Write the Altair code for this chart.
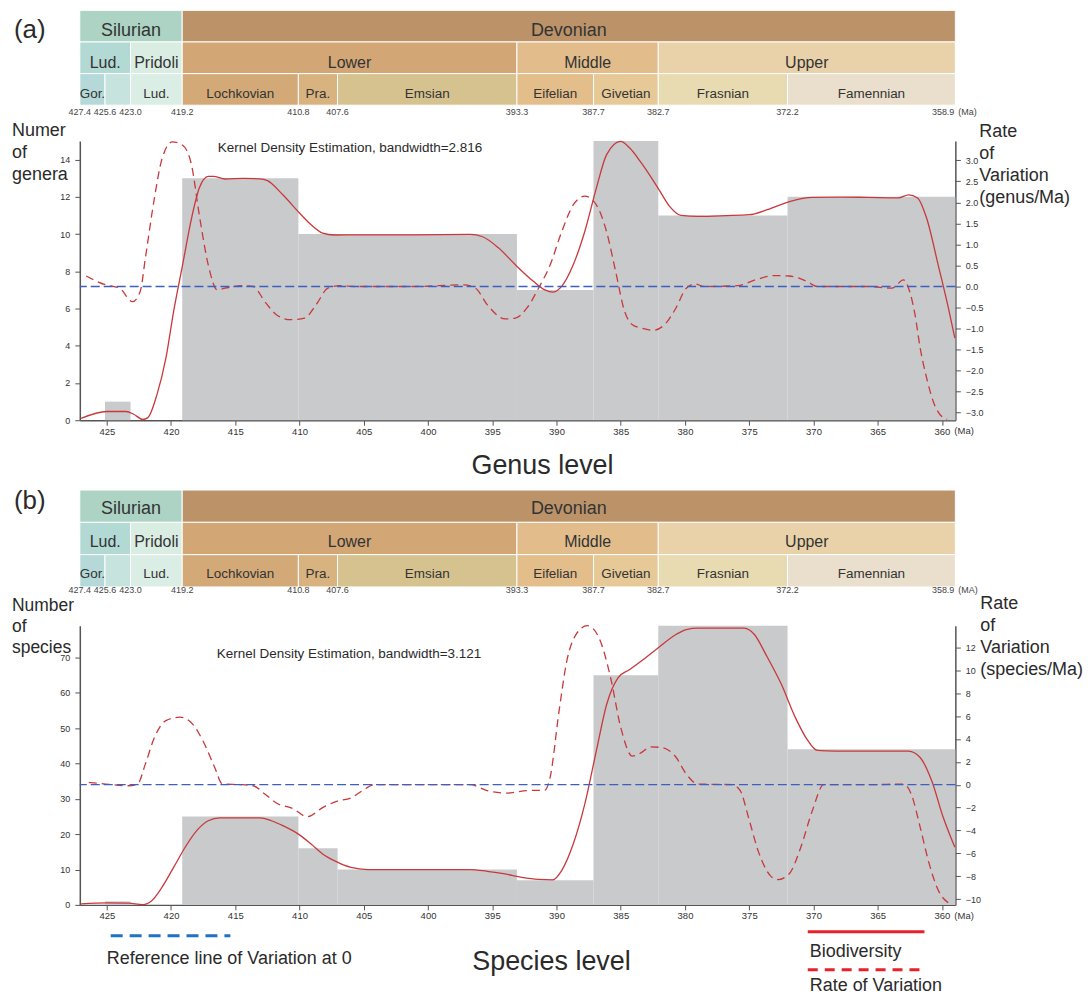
import altair as alt
import pandas as pd

FONT = "Liberation Sans"
RED = "#c9383b"
BLUE = "#3d5fc0"
BAR = "#c9cacc"
TXT = "#2a2a2a"

# ---------------- geological time scale ----------------
boundary_labels = ["427.4", "425.6", "423.0", "419.2", "410.8", "407.6",
                   "393.3", "387.7", "382.7", "372.2", "358.9"]
# where each boundary sits on the plot's time axis (Ma)
boundary_pos = [427.1, 425.14, 423.15, 419.13, 410.09, 407.04,
                393.08, 387.12, 382.08, 372.02, 358.96]

unit_names = ["Silurian", "Devonian",
              "Lud.", "Pridoli", "Lower", "Middle", "Upper",
              "Gor.", "", "Lud.", "Lochkovian", "Pra.", "Emsian",
              "Eifelian", "Givetian", "Frasnian", "Famennian"]
unit_rows = [0, 0, 1, 1, 1, 1, 1, 2, 2, 2, 2, 2, 2, 2, 2, 2, 2]
unit_from = [0, 3, 0, 2, 3, 6, 8, 0, 1, 2, 3, 4, 5, 6, 7, 8, 9]
unit_to = [3, 10, 2, 3, 6, 8, 10, 1, 2, 3, 4, 5, 6, 7, 8, 9, 10]
unit_colors = ["#acd3c3", "#bc9369",
               "#b3d9d5", "#d9ede3", "#d2a675", "#e2bd8b", "#e9d2a9",
               "#b4d9d8", "#c6e4dd", "#dbeee5", "#d4a978", "#d9b37f",
               "#d6c28f", "#e3bd8a", "#e6c996", "#e8dbb1", "#e9dfcc"]
row_font = [18, 16, 13.5]

# ---------------- genus level ----------------
genus_bar_start = [425.14, 419.13, 410.09, 393.08, 387.12, 382.08, 372.02]
genus_bar_end = [423.15, 410.09, 393.08, 387.12, 382.08, 372.02, 358.96]
genus_bar_count = [1, 13, 10, 7, 15, 11, 12]

genus_kde_ma = [427.0, 425.0, 423.5, 422.9, 422.2, 421.8, 421.1, 420.4, 419.8, 419.1,
                418.4, 417.8, 417.1, 416.7, 415.8, 414.4, 413.1, 412.5, 411.3, 410.0,
                409.1, 408.2, 407.3, 405.6, 401.1, 396.7, 395.8, 394.5, 393.2, 391.8,
                390.9, 390.3, 389.6, 388.7, 387.8, 386.9, 386.1, 385.0, 384.3, 383.4,
                382.1, 381.2, 380.3, 379.0, 376.8, 375.0, 373.6, 371.8, 370.1, 367.9,
                365.7, 363.4, 362.6, 361.9, 361.2, 360.3, 359.5, 359.0]
genus_kde_val = [0.1, 0.47, 0.47, 0.32, 0.04, 0.14, 1.36, 3.33, 5.84, 8.35,
                 10.86, 12.47, 13.1, 13.1, 12.96, 12.99, 12.97, 12.87, 12.11, 11.13,
                 10.5, 10.05, 9.95, 9.96, 9.96, 9.98, 9.87, 9.25, 8.35, 7.46,
                 7.0, 6.88, 7.19, 8.35, 10.14, 12.47, 14.27, 14.98, 14.62, 13.82,
                 12.47, 11.49, 11.0, 10.95, 10.99, 11.04, 11.31, 11.76, 11.97, 11.99,
                 11.97, 11.95, 12.11, 11.94, 10.86, 8.35, 6.02, 4.41]

genus_rate_ma = [426.6, 425.1, 424.0, 423.0, 422.4, 422.0, 421.3, 420.7, 419.9, 419.1,
                 418.4, 417.8, 417.1, 416.4, 415.8, 414.4, 413.6, 412.7, 411.8, 410.7,
                 409.6, 408.7, 407.8, 406.9, 405.6, 401.1, 397.2, 396.3, 395.4, 394.0,
                 393.2, 392.3, 391.4, 390.5, 389.6, 388.7, 387.8, 386.9, 386.1, 385.4,
                 384.7, 384.1, 383.4, 382.5, 381.6, 380.7, 379.9, 379.2, 378.5, 375.9,
                 374.5, 373.0, 371.9, 370.5, 369.7, 365.7, 363.9, 363.0, 362.6, 362.1,
                 361.7, 361.2, 360.6, 359.9, 359.6]
genus_rate_val = [0.25, 0.04, -0.04, -0.36, -0.12, 0.67, 2.09, 3.04, 3.44, 3.36,
                  2.88, 1.70, 0.51, -0.08, -0.04, 0.02, 0.0, -0.36, -0.67, -0.79,
                  -0.75, -0.43, -0.04, 0.02, 0.0, 0.0, 0.04, -0.04, -0.43, -0.77,
                  -0.75, -0.51, -0.04, 0.51, 1.30, 1.94, 2.15, 1.94, 1.30, 0.36,
                  -0.59, -0.91, -0.99, -1.04, -0.91, -0.51, -0.04, 0.06, 0.0, 0.02,
                  0.16, 0.26, 0.25, 0.12, 0.0, 0.0, -0.04, 0.16, -0.04, -0.67,
                  -1.46, -2.17, -2.80, -3.12, -3.16]

# ---------------- species level ----------------
species_bar_start = [425.14, 419.13, 410.09, 407.04, 393.08, 387.12, 382.08, 372.02]
species_bar_end = [423.15, 410.09, 407.04, 393.08, 387.12, 382.08, 372.02, 358.96]
species_bar_count = [1, 25, 16, 10, 7, 65, 79, 44]

species_kde_ma = [427.0, 425.0, 423.3, 422.2, 421.5, 420.7, 419.8, 418.9, 418.0, 417.1,
                  416.2, 414.4, 413.1, 412.2, 411.3, 410.0, 409.1, 408.2, 407.3, 406.0,
                  404.7, 401.1, 396.7, 395.4, 394.0, 392.7, 391.4, 390.3, 389.6, 388.7,
                  387.8, 386.9, 386.1, 385.2, 384.3, 383.4, 382.1, 380.7, 379.9, 379.0,
                  375.4, 374.6, 373.7, 372.5, 371.4, 370.5, 369.7, 368.3, 362.6, 361.7,
                  360.8, 359.9, 359.0]
species_kde_val = [0.3, 0.56, 0.47, 0.1, 1.2, 5.0, 10.6, 16.3, 21.0, 23.8,
                   24.6, 24.6, 24.6, 23.8, 22.4, 19.8, 17.2, 14.4, 12.5, 10.6,
                   10.0, 10.0, 10.0, 9.5, 8.75, 7.8, 7.2, 7.06, 9.7, 17.2,
                   28.5, 43.6, 56.7, 64.3, 66.6, 69.0, 72.7, 76.5, 77.9, 78.3,
                   78.3, 76.5, 70.8, 62.4, 52.9, 46.8, 43.7, 43.5, 43.5, 41.7,
                   35.1, 24.7, 16.3]

species_rate_ma = [426.4, 425.1, 423.3, 422.6, 422.0, 421.3, 420.4, 419.3, 418.4, 417.5,
                   416.6, 416.0, 414.4, 413.6, 412.7, 411.8, 410.5, 409.4, 408.2, 407.1,
                   406.0, 405.1, 404.2, 396.7, 395.4, 394.0, 392.3, 390.9, 390.5, 389.8,
                   389.2, 388.5, 387.6, 386.7, 385.8, 385.0, 384.1, 383.4, 382.7, 381.9,
                   380.7, 379.9, 379.0, 376.3, 375.7, 375.0, 374.3, 373.4, 372.8, 371.9,
                   371.0, 370.1, 369.2, 365.7, 363.0, 362.4, 361.7, 361.0, 360.3, 359.4]
species_rate_val = [0.2, 0.06, -0.09, 0.06, 1.8, 4.1, 5.6, 5.9, 5.4, 3.8,
                    1.5, 0.06, 0.0, -0.09, -0.81, -1.6, -2.1, -2.8, -2.0, -1.45,
                    -1.16, -0.52, 0.0, 0.0, -0.52, -0.73, -0.52, -0.47, 0.64, 6.45,
                    10.8, 13.1, 13.9, 12.85, 9.4, 5.0, 2.5, 2.8, 3.3, 3.26,
                    2.4, 0.93, 0.06, 0.0, -0.52, -3.1, -5.8, -7.9, -8.3, -7.8,
                    -5.5, -2.3, 0.0, 0.0, 0.06, -0.8, -3.7, -6.9, -9.2, -10.4]

x_ticks = [425, 420, 415, 410, 405, 400, 395, 390, 385, 380, 375, 370, 365, 360]

W = 878
X_DOMAIN = [358.96, 427.1]


def xscale():
    return alt.Scale(domain=X_DOMAIN, reverse=True, nice=False, zero=False)


one = pd.DataFrame({"k": [0]})


def note(text, x, y, size, align="left", baseline="alphabetic", color=TXT, line_height=None):
    kw = dict(text=text, font=FONT, fontSize=size, align=align, baseline=baseline, color=color)
    if line_height is not None:
        kw["lineBreak"] = "\n"
        kw["lineHeight"] = line_height
    return alt.Chart(one).mark_text(**kw).encode(x=alt.value(x), y=alt.value(y))


def timescale(height, top_off, row_h, text_frac, label_y, panel_label, label_base, ma_text):
    ysc = alt.Scale(domain=[-top_off / row_h, (height - top_off) / row_h],
                    reverse=True, nice=False, zero=False)
    df = pd.DataFrame({
        "name": unit_names,
        "row": unit_rows,
        "s": [boundary_pos[i] for i in unit_from],
        "e": [boundary_pos[i] for i in unit_to],
        "color": unit_colors,
    })
    df["r1"] = df["row"] + 1
    df["mid"] = (df["s"] + df["e"]) / 2
    df["ty"] = df["row"] + text_frac
    df["fs"] = [row_font[r] for r in unit_rows]

    rects = alt.Chart(df).mark_rect(stroke="white", strokeWidth=1).encode(
        x=alt.X("s:Q", scale=xscale(), axis=None), x2="e:Q",
        y=alt.Y("row:Q", scale=ysc, axis=None), y2="r1:Q",
        color=alt.Color("color:N", scale=None))
    names = alt.Chart(df).mark_text(font=FONT, color="#333", baseline="middle").encode(
        x=alt.X("mid:Q", scale=xscale(), axis=None),
        y=alt.Y("ty:Q", scale=ysc, axis=None),
        text="name:N",
        size=alt.Size("fs:Q", scale=None))

    bdf = pd.DataFrame({"pos": boundary_pos[:-1], "lab": boundary_labels[:-1]})
    bdf["ly"] = label_y
    blabels = alt.Chart(bdf).mark_text(font=FONT, fontSize=9, color="#444",
                                       baseline="middle").encode(
        x=alt.X("pos:Q", scale=xscale(), axis=None),
        y=alt.Y("ly:Q", scale=ysc, axis=None),
        text="lab:N")
    ldf = pd.DataFrame({"pos": [boundary_pos[-1]], "lab": [boundary_labels[-1]],
                        "unit": [ma_text], "ly": [label_y]})
    last = alt.Chart(ldf).mark_text(font=FONT, fontSize=9, color="#444", baseline="middle",
                                    align="right", dx=-1).encode(
        x=alt.X("pos:Q", scale=xscale(), axis=None),
        y=alt.Y("ly:Q", scale=ysc, axis=None), text="lab:N")
    unit = alt.Chart(ldf).mark_text(font=FONT, fontSize=9, color="#444", baseline="middle",
                                    align="left", dx=3).encode(
        x=alt.X("pos:Q", scale=xscale(), axis=None),
        y=alt.Y("ly:Q", scale=ysc, axis=None), text="unit:N")
    plabel = note(panel_label, -66, label_base, 26)
    return alt.layer(rects, names, blabels, last, unit, plabel).properties(width=W, height=height)


def axis_common(**kw):
    base = dict(title=None, grid=False, domainColor="#555", domainWidth=1.5,
                tickColor="#555", tickSize=5, labelFont=FONT, labelFontSize=9,
                labelColor="#333")
    base.update(kw)
    return alt.Axis(**base)


def main_panel(bs, be, bc, kma, kval, rma, rval, ldom, lticks, rdom, rticks, rfmt,
               extra_left, extra_right):
    x_axis = axis_common(values=x_ticks, format="d", labelPadding=1, labelFontSize=9.5)
    lsc = alt.Scale(domain=ldom, nice=False, zero=False)
    rsc = alt.Scale(domain=rdom, nice=False, zero=False)
    l_axis = axis_common(values=lticks, format="d", orient="left", labelPadding=5)
    r_axis = axis_common(values=rticks, format=rfmt, orient="right", labelPadding=5)

    bdf = pd.DataFrame({"s": bs, "e": be, "n": bc})
    kdf = pd.DataFrame({"ma": kma, "v": kval})
    rdf = pd.DataFrame({"ma": rma, "v": rval})

    bars = alt.Chart(bdf).mark_rect(color=BAR).encode(
        x=alt.X("s:Q", scale=xscale(), axis=x_axis), x2="e:Q",
        y=alt.Y("n:Q", scale=lsc, axis=l_axis), y2=alt.datum(0))
    kde = alt.Chart(kdf).mark_line(color=RED, strokeWidth=1.3, interpolate="monotone").encode(
        x=alt.X("ma:Q", scale=xscale(), axis=x_axis),
        y=alt.Y("v:Q", scale=lsc, axis=l_axis))
    left = alt.layer(bars, kde, *extra_left)

    rate = alt.Chart(rdf).mark_line(color=RED, strokeWidth=1.3, strokeDash=[8, 5],
                                    interpolate="monotone").encode(
        x=alt.X("ma:Q", scale=xscale(), axis=x_axis),
        y=alt.Y("v:Q", scale=rsc, axis=r_axis))
    ref = alt.Chart(pd.DataFrame({"z": [0]})).mark_rule(
        color=BLUE, strokeWidth=1.3, strokeDash=[9, 4]).encode(
        y=alt.Y("z:Q", scale=rsc, axis=r_axis))
    right = alt.layer(rate, ref, *extra_right)

    return alt.layer(left, right).resolve_scale(y="independent").properties(width=W, height=280)


# ---------- panel (a) ----------
tsA = timescale(height=131, top_off=0, row_h=31.7, text_frac=0.66, label_y=3.2,
                panel_label="(a)", label_base=28, ma_text="(Ma)")

mainA = main_panel(
    genus_bar_start, genus_bar_end, genus_bar_count,
    genus_kde_ma, genus_kde_val, genus_rate_ma, genus_rate_val,
    [0, 15], [0, 2, 4, 6, 8, 10, 12, 14],
    [-3.18, 3.46], [-3.0, -2.5, -2.0, -1.5, -1.0, -0.5, 0.0, 0.5, 1.0, 1.5, 2.0, 2.5, 3.0], ".1f",
    [
        note("Numer\nof\ngenera", -68, -5, 18, line_height=22),
        note("Rate\nof\nVariation\n(genus/Ma)", 902, -4, 18, line_height=22),
        note("Kernel Density Estimation, bandwidth=2.816", 271, 7, 13.5,
             align="center", baseline="middle"),
        note("(Ma)", 877, 291, 9.5, baseline="middle", color="#333"),
        note("Genus level", 464, 334, 27, align="center"),
    ],
    [],
)

# ---------- panel (b) ----------
tsB = timescale(height=206, top_off=70, row_h=32.4, text_frac=0.6, label_y=3.09,
                panel_label="(b)", label_base=89, ma_text="(MA)")

legend_marks = [
    alt.Chart(one).mark_rule(color="#1f72c4", strokeWidth=3, strokeDash=[12, 7]).encode(
        x=alt.value(31), x2=alt.value(151), y=alt.value(311)),
    note("Reference line of Variation at 0", 27, 339, 18),
    alt.Chart(one).mark_rule(color="#e8202a", strokeWidth=3).encode(
        x=alt.value(730), x2=alt.value(847), y=alt.value(307)),
    note("Biodiversity", 732, 332, 18),
    alt.Chart(one).mark_rule(color="#e8202a", strokeWidth=3, strokeDash=[10, 7]).encode(
        x=alt.value(730), x2=alt.value(847), y=alt.value(345)),
    note("Rate of Variation", 732, 366, 18),
]

mainB = main_panel(
    species_bar_start, species_bar_end, species_bar_count,
    species_kde_ma, species_kde_val, species_rate_ma, species_rate_val,
    [0, 79], [0, 10, 20, 30, 40, 50, 60, 70],
    [-10.5, 13.9], [-10, -8, -6, -4, -2, 0, 2, 4, 6, 8, 10, 12], "d",
    [
        note("Number\nof\nspecies", -68, -15, 17.5, line_height=21),
        note("Rate\nof\nVariation\n(species/Ma)", 903, -17, 18, line_height=22),
        note("Kernel Density Estimation, bandwidth=3.121", 270, 28, 13.5,
             align="center", baseline="middle"),
        note("(Ma)", 877, 291, 9.5, baseline="middle", color="#333"),
        note("Species level", 473, 345, 27, align="center"),
    ] + legend_marks,
    [],
)

chart = alt.vconcat(tsA, mainA, tsB, mainB, spacing=0, bounds="flush").properties(
    padding={"left": 4, "top": 0, "right": 0, "bottom": 0}
).configure(font=FONT).configure_view(stroke=None)

chart.save("out.html", embed_options={"renderer": "svg", "actions": False})
